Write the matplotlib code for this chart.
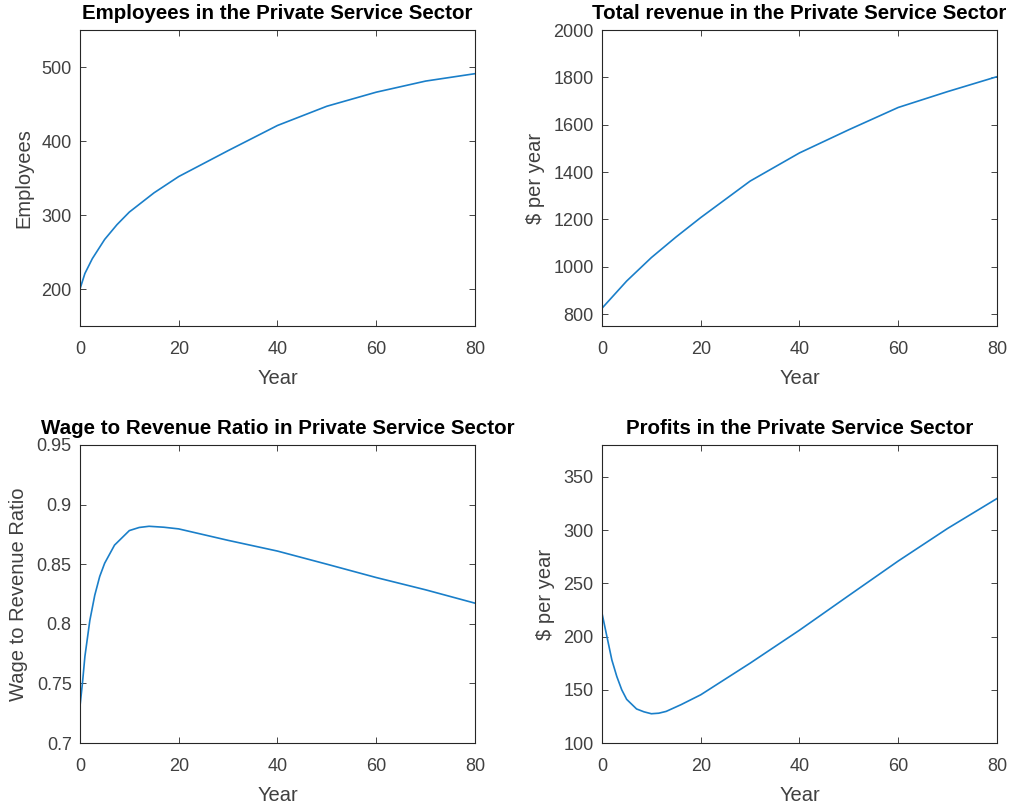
import numpy as np
import matplotlib.pyplot as plt
from matplotlib.ticker import FormatStrFormatter

plt.rcParams.update(
    {
        "font.family": ["Liberation Sans", "DejaVu Sans"],
        "font.size": 13,
        "axes.edgecolor": "#262626",
        "axes.linewidth": 0.8,
        "xtick.color": "#262626",
        "ytick.color": "#262626",
        "xtick.labelcolor": "#404040",
        "ytick.labelcolor": "#404040",
        "xtick.direction": "in",
        "ytick.direction": "in",
        "xtick.top": True,
        "ytick.right": True,
        "xtick.major.size": 4,
        "ytick.major.size": 4,
        "xtick.major.width": 0.6,
        "ytick.major.width": 0.6,
        "xtick.major.pad": 11,
        "ytick.major.pad": 6,
    }
)

# values
year_emp = [0, 1, 2.5, 5, 7.5, 10, 15, 20, 30, 40, 50, 60, 70, 80]
employees = [200, 221, 241, 267, 287, 304, 330, 352, 387, 421, 447, 466, 481, 491]

year_rev = [0, 5, 10, 15, 20, 30, 40, 50, 60, 70, 80]
revenue = [825, 940, 1039, 1126, 1208, 1362, 1481, 1579, 1673, 1740, 1803]

year_wage = [0, 0.5, 1, 2, 3, 4, 5, 7, 10, 12, 14, 17, 20, 30, 40, 50, 60, 70, 80]
wage_ratio = [0.7307, 0.750, 0.7726, 0.8028, 0.824, 0.8397, 0.8508, 0.866,
              0.8782, 0.8808, 0.8818, 0.881, 0.8796, 0.870, 0.861, 0.850,
              0.8388, 0.8285, 0.8173]

year_prof = [0, 1, 2, 3, 4, 5, 7, 8.5, 10, 11.5, 13, 16, 20, 30, 40, 50, 60, 70, 80]
profits = [222, 200, 178, 162.5, 150, 141, 132, 129.3, 127.5, 128, 129.7, 136,
           145.3, 175, 206, 238.6, 271, 301.6, 329.7]

line_color = "#1a7fc9"

fig = plt.figure(figsize=(10.16, 8.07), dpi=100)
ax1 = fig.add_axes([0.0787, 0.596, 0.3888, 0.3668])
ax2 = fig.add_axes([0.5925, 0.596, 0.3888, 0.3668])
ax3 = fig.add_axes([0.0787, 0.0793, 0.3888, 0.3693])
ax4 = fig.add_axes([0.5925, 0.0793, 0.3888, 0.3693])

panels = [
    (ax1, year_emp, employees, "Employees in the Private Service Sector", "Employees", (150, 550), [200, 300, 400, 500]),
    (ax2, year_rev, revenue, "Total revenue in the Private Service Sector", "\\$ per year", (750, 2000), np.arange(800, 2001, 200)),
    (ax3, year_wage, wage_ratio, "Wage to Revenue Ratio in Private Service Sector", "Wage to Revenue Ratio", (0.7, 0.95), [0.7, 0.75, 0.8, 0.85, 0.9, 0.95]),
    (ax4, year_prof, profits, "Profits in the Private Service Sector", "\\$ per year", (100, 380), [100, 150, 200, 250, 300, 350]),
]

for ax, x, y, title, ylabel, ylim, yticks in panels:
    ax.plot(x, y, color=line_color, linewidth=1.2)
    ax.set_xlim(0, 80)
    ax.set_xticks([0, 20, 40, 60, 80])
    ax.set_ylim(*ylim)
    ax.set_yticks(yticks)
    ax.yaxis.set_major_formatter(FormatStrFormatter("%g"))
    ax.set_title(title, fontweight="bold", fontsize=14.8, pad=8)
    ax.set_xlabel("Year", fontsize=14.5, color="#404040", labelpad=8)
    ax.set_ylabel(ylabel, fontsize=14.5, color="#404040", labelpad=6)

fig.savefig("out.png", dpi=100)
